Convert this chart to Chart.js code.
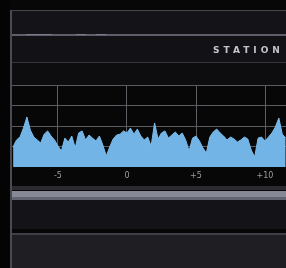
<!DOCTYPE html>
<html>
<head>
<meta charset="utf-8">
<script src="https://cdn.jsdelivr.net/npm/chart.js@4/dist/chart.umd.min.js"></script>
<style>
html,body{margin:0;padding:0;background:#0a0a0c;}
#wrap{position:relative;width:286px;height:268px;}
</style>
</head>
<body>
<div id="wrap"><canvas id="c" width="286" height="268"></canvas></div>
<script>
// ---- data ----
const xValues = [-8.25,-8,-7.75,-7.5,-7.25,-7,-6.75,-6.5,-6.25,-6,-5.75,-5.5,-5.25,-5,-4.75,-4.5,-4.25,-4,-3.75,-3.5,-3.25,-3,-2.75,-2.5,-2.25,-2,-1.75,-1.5,-1.25,-1,-0.75,-0.5,-0.25,0,0.25,0.5,0.75,1,1.25,1.5,1.75,2,2.25,2.5,2.75,3,3.25,3.5,3.75,4,4.25,4.5,4.75,5,5.25,5.5,5.75,6,6.25,6.5,6.75,7,7.25,7.5,7.75,8,8.25,8.5,8.75,9,9.25,9.5,9.75,10,10.25,10.5,10.75,11,11.25,11.5];
const levels = [0.98,1.32,1.46,1.9,2.44,1.8,1.46,1.32,1.17,1.6,1.76,1.51,1.32,1.02,0.78,1.41,1.22,1.51,0.93,1.66,1.76,1.32,1.56,1.41,1.27,1.51,1.07,0.54,0.98,1.37,1.56,1.6,1.76,1.66,1.9,1.6,1.85,1.51,1.32,1.46,1.02,2.15,1.37,1.66,1.76,1.41,1.56,1.71,1.51,1.66,1.32,0.78,1.41,1.51,1.27,0.93,0.68,1.46,1.71,1.85,1.66,1.51,1.32,1.46,1.37,1.22,1.32,1.46,1.37,0.83,0.49,1.41,1.46,1.27,1.46,1.66,1.95,2.39,1.6,1.41];
const xTickValues = [-5,0,5,10];
const xTickLabels = ["-5","0","+5","+10"];
const yTickValues = [1,2,3,4];
const headerText = "STATION";

const points = xValues.map((x,i)=>({x:x,y:levels[i]}));

const backdrop = {
  id:'backdrop',
  beforeDraw(chart){
    const ctx = chart.ctx;
    ctx.save();
    ctx.fillStyle='#070708'; ctx.fillRect(0,0,286,268);
    ctx.fillStyle='#040405'; ctx.fillRect(0,0,10,268);
    // top panel
    ctx.fillStyle='#141418'; ctx.fillRect(11,11,275,23);
    ctx.fillStyle='#46464c'; ctx.fillRect(11,10,275,1);
    ctx.fillStyle='#5e5e6a'; ctx.fillRect(11,34,275,2);
    ctx.fillStyle='#7a7a88'; ctx.fillRect(26,34,26,1); ctx.fillRect(76,34,10,1); ctx.fillRect(96,34,10,1);
    ctx.fillStyle='#121216'; ctx.fillRect(11,36,275,26);
    ctx.fillStyle='#35353b'; ctx.fillRect(11,62,275,1);
    ctx.fillStyle='#0d0d10'; ctx.fillRect(11,63,275,22);
    // chart zone
    ctx.fillStyle='#070708'; ctx.fillRect(11,85,275,100);
    // lower panels
    ctx.fillStyle='#2a2a30'; ctx.fillRect(11,186,275,4);
    ctx.fillStyle='#868896'; ctx.fillRect(11,191,275,6);
    ctx.fillStyle='#62646f'; ctx.fillRect(11,197,275,3);
    ctx.fillStyle='#141418'; ctx.fillRect(11,200,275,29);
    ctx.fillStyle='#060607'; ctx.fillRect(11,229,275,4);
    ctx.fillStyle='#3e3e46'; ctx.fillRect(11,233,275,2);
    ctx.fillStyle='#1e1e23'; ctx.fillRect(11,235,275,33);
    // left border
    ctx.fillStyle='#4a4a52'; ctx.fillRect(10,10,2,258);
    // header text
    ctx.fillStyle='#c4c4cc';
    ctx.font='bold 9px "DejaVu Sans", sans-serif';
    ctx.letterSpacing='4px';
    ctx.textBaseline='middle';
    ctx.fillText(headerText,213,51);
    ctx.restore();
  }
};

new Chart(document.getElementById('c'),{
  type:'line',
  data:{datasets:[{
    data:points,
    borderColor:'#7cbcec',
    borderWidth:1,
    backgroundColor:'#72b4e6',
    fill:'origin',
    pointRadius:0,
    tension:0
  }]},
  options:{
    responsive:false,
    animation:false,
    events:[],
    layout:{padding:{left:12,top:85,right:0,bottom:0}},
    plugins:{legend:{display:false},tooltip:{enabled:false}},
    scales:{
      x:{
        type:'linear',
        min:-8.33, max:11.52,
        afterBuildTicks:s=>{s.ticks=xTickValues.map(v=>({value:v}));},
        afterFit:s=>{s.height=101;},
        grid:{color:'#5e5e64',lineWidth:1,drawTicks:false},
        border:{display:false},
        ticks:{color:'#9c9ca4',font:{size:8,family:'DejaVu Sans'},padding:4,maxRotation:0,
          callback:(v)=>{const i=xTickValues.indexOf(v);return i>=0?xTickLabels[i]:'';}}
      },
      y:{
        min:0,max:4,
        afterBuildTicks:s=>{s.ticks=yTickValues.map(v=>({value:v}));},
        afterFit:s=>{s.width=0;},
        grid:{color:'#5a5a60',lineWidth:1,drawTicks:false},
        border:{display:false},
        ticks:{display:false}
      }
    }
  },
  plugins:[backdrop]
});
</script>
</body>
</html>
